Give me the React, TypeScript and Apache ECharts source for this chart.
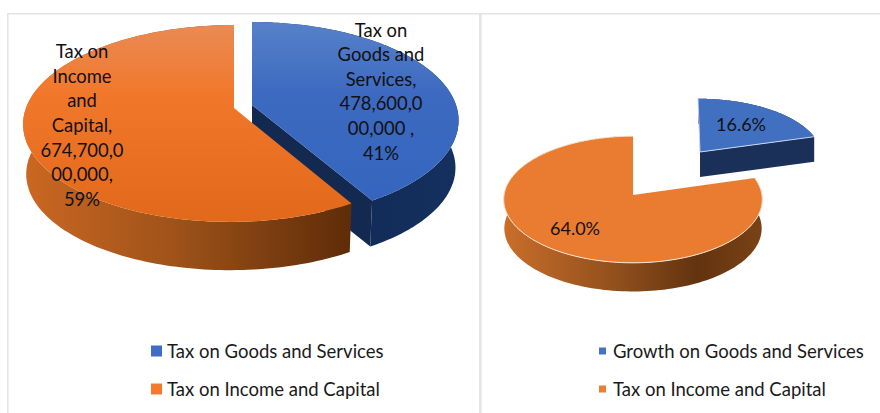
import React, { useEffect, useRef } from "react";
import * as echarts from "echarts";

const leftNames = ["Tax on Goods and Services", "Tax on Income and Capital"];
const rightNames = ["Growth on Goods and Services", "Tax on Income and Capital"];
const leftValues = [478600000000, 674700000000];
const rightValues = [16.6, 64.0];
const leftLabels = [
  "Tax on\nGoods and\nServices,\n478,600,0\n00,000 ,\n41%",
  "Tax on\nIncome\nand\nCapital,\n674,700,0\n00,000,\n59%",
];
const rightLabels = ["16.6%", "64.0%"];

const FONT = "Lato";
const lin = (x2: number, y2: number, stops: [number, string][]) =>
  new echarts.graphic.LinearGradient(0, 0, x2, y2, stops.map(([offset, color]) => ({ offset, color })));

type Geo = {
  cx: number; ay: number; A: number; R: number; k: number; depth: number; base: number;
  twist?: number; apexDx?: number; fs: number;
  top: any; wall: any; face?: string; edge?: string; lx: number; ly: number; lh: number;
};

const leftGeo: Geo[] = [
  {
    cx: 252, ay: 105, A: 204, R: 96, k: 0.157, depth: 47.5, base: 0.985, fs: 18.4,
    top: lin(0, 1, [[0, "#5681c9"], [0.4, "#3d6ac0"], [1, "#3565be"]]),
    wall: lin(1, 0, [[0, "#0f2750"], [1, "#15305f"]]),
    face: "#14294f", lx: 381, ly: 91, lh: 24.6,
  },
  {
    cx: 234, ay: 108, A: 206, R: 96, k: 0.157, depth: 50, base: 0.985, twist: 2, fs: 18.4,
    top: lin(0, 1, [[0, "#ea8a54"], [0.35, "#f1782b"], [1, "#e2691a"]]),
    wall: lin(1, 0, [[0, "#cb6722"], [0.45, "#a0531a"], [1, "#5e2c08"]]),
    lx: 82, ly: 125, lh: 24.6,
  },
];
const rightGeo: Geo[] = [
  {
    cx: 698, ay: 152, A: 123, R: 57, k: 0.07, depth: 25, base: 1, apexDx: 2, fs: 18,
    top: "#4270c0", wall: "#1b3058", face: "#1b3058", edge: "#c9d6ee", lx: 741, ly: 124, lh: 20,
  },
  {
    cx: 633, ay: 195, A: 129, R: 63, k: 0.071, depth: 29, base: 0.995, fs: 18,
    top: "#e97c30",
    wall: lin(1, 0, [[0, "#c96e2a"], [0.45, "#8f4e1c"], [0.75, "#63330f"], [1, "#7a4216"]]),
    edge: "#fbe6d4", lx: 575, ly: 228, lh: 20,
  },
];

function project(g: Geo, frac: number, level: number): number[] {
  const t = frac * 2 * Math.PI;
  const u = Math.sin(t);
  const v = -Math.cos(t);
  const w = 1 / (1 - g.k * v);
  const s = level ? g.base : 1;
  return [g.cx + g.A * u * w * s - (g.twist || 0) * (v + 1), g.ay + g.R * v * w * s + g.depth * level];
}

function sliceSeries(name: string, values: number[], index: number, geo: Geo, label: string, color: string) {
  const total = values.reduce((a, b) => a + b, 0);
  const before = values.slice(0, index).reduce((a, b) => a + b, 0);
  return {
    type: "custom",
    name,
    coordinateSystem: "none",
    silent: true,
    itemStyle: { color },
    data: [[values[index]]],
    renderItem: (_p: any, api: any) => {
      const start = before / total;
      const end = start + api.value(0) / total;
      const topArc: number[][] = [];
      const baseArc: number[][] = [];
      for (let i = 0; i <= 160; i++) {
        const f = start + ((end - start) * i) / 160;
        topArc.push(project(geo, f, 0));
        baseArc.push(project(geo, f, 1));
      }
      const ax = geo.cx + (geo.apexDx || 0);
      const apex = [ax, geo.ay];
      const children: any[] = [
        { type: "polygon", shape: { points: [...topArc, ...baseArc.slice().reverse()] }, style: { fill: geo.wall } },
      ];
      if (geo.face) {
        const e = topArc[160];
        const eb = baseArc[160];
        children.push({
          type: "polygon",
          shape: { points: [apex, e, eb, [ax, geo.ay + geo.depth]] },
          style: { fill: geo.face },
        });
      }
      children.push({ type: "polygon", shape: { points: [apex, ...topArc] }, style: { fill: geo.top } });
      if (geo.edge) {
        if (geo.face) {
          children.push({
            type: "polyline",
            shape: { points: [topArc[0], apex, topArc[160]] },
            style: { stroke: geo.edge, lineWidth: 1, fill: "none" },
          });
        } else {
          children.push({
            type: "polyline",
            shape: { points: topArc },
            style: { stroke: geo.edge, lineWidth: 1, fill: "none" },
          });
        }
      }
      children.push({
        type: "text",
        style: {
          text: label, x: geo.lx, y: geo.ly, align: "center", verticalAlign: "middle",
          fontFamily: FONT, fontSize: geo.fs, lineHeight: geo.lh, fill: "#111",
        },
      });
      return { type: "group", children };
    },
  };
}

const frame = (x: number, y: number, width: number, height: number) => ({
  type: "rect", shape: { x, y, width, height }, style: { fill: "#e1e4e9" }, silent: true,
});

const legendBase = {
  orient: "vertical", selectedMode: false, icon: "rect", padding: 0,
};

export default function App() {
  const ref = useRef<HTMLDivElement>(null);
  useEffect(() => {
    const chart = echarts.init(ref.current!, undefined, { renderer: "svg" });
    chart.setOption({
      animation: false,
      backgroundColor: "#fff",
      graphic: [frame(7, 13, 873, 1.5), frame(7, 13, 1.5, 400), frame(479, 13, 2.5, 400)],
      legend: [
        {
          ...legendBase, left: 151, top: 340, itemWidth: 11, itemHeight: 11, itemGap: 16,
          textStyle: { fontFamily: FONT, fontSize: 18.5, color: "#1a1a1a", lineHeight: 22 },
          data: [
            { name: leftNames[0], itemStyle: { color: "#3f6cc4" } },
            { name: leftNames[1], itemStyle: { color: "#f57a2e" } },
          ],
        },
        {
          ...legendBase, left: 599, top: 340, itemWidth: 7, itemHeight: 7, itemGap: 16,
          textStyle: { fontFamily: FONT, fontSize: 18.5, color: "#1a1a1a", lineHeight: 22, padding: [0, 0, 0, 2] },
          data: [
            { name: rightNames[0], itemStyle: { color: "#4472c4" } },
            { name: rightNames[1], itemStyle: { color: "#ed7d31" } },
          ],
        },
      ],
      series: [
        sliceSeries(leftNames[0], leftValues, 0, leftGeo[0], leftLabels[0], "#3f6cc4"),
        sliceSeries(leftNames[1], leftValues, 1, leftGeo[1], leftLabels[1], "#f57a2e"),
        sliceSeries(rightNames[0], rightValues, 0, rightGeo[0], rightLabels[0], "#4472c4"),
        sliceSeries(rightNames[1] + " ", rightValues, 1, rightGeo[1], rightLabels[1], "#ed7d31"),
      ],
    });
    return () => chart.dispose();
  }, []);
  return <div ref={ref} style={{ position: "absolute", left: 0, top: 0, width: 880, height: 413 }} />;
}
